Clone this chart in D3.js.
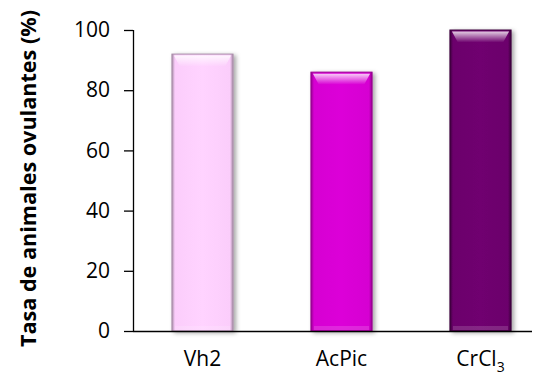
<!DOCTYPE html>
<html>
<head>
<meta charset="utf-8">
<script src="https://cdn.jsdelivr.net/npm/d3@7"></script>
<style>
  html, body { margin: 0; padding: 0; background: #fff; }
  svg { display: block; }
  text { font-family: "Open Sans", "Liberation Sans", sans-serif; fill: #000; }
</style>
</head>
<body>
<svg id="chart" width="540" height="376"></svg>
<script>
// Ovulation rate per treatment group
const groups = ["Vh2", "AcPic", "CrCl3"];
const rates = [92, 86, 100];
const yTicks = [0, 20, 40, 60, 80, 100];
const barColors = ["#fbcdfb", "#d600d2", "#6c006c"];
const edgeColors = ["#a88ca8", "#96008f", "#3c003c"];

const svg = d3.select("#chart");
const plotLeft = 133, plotRight = 550, plotTop = 30, plotBottom = 331;

const x = d3.scaleBand().domain(groups).range([plotLeft, plotRight]).paddingInner(0.56).paddingOuter(0.28);
const y = d3.scaleLinear().domain([0, 100]).range([plotBottom, plotTop]);

const defs = svg.append("defs");

const shadow = defs.append("filter").attr("id", "barShadow")
  .attr("x", "-20%").attr("y", "-10%").attr("width", "150%").attr("height", "130%");
shadow.append("feDropShadow").attr("dx", 2.5).attr("dy", 1.5)
  .attr("stdDeviation", 2).attr("flood-color", "#000").attr("flood-opacity", 0.35);

groups.forEach((g, i) => {
  const grad = defs.append("linearGradient").attr("id", "fill" + i)
    .attr("x1", 0).attr("x2", 1).attr("y1", 0).attr("y2", 0);
  grad.append("stop").attr("offset", 0).attr("stop-color", edgeColors[i]);
  grad.append("stop").attr("offset", 0.05).attr("stop-color", barColors[i]);
  grad.append("stop").attr("offset", 0.5).attr("stop-color", d3.color(barColors[i]).brighter(0.08));
  grad.append("stop").attr("offset", 0.95).attr("stop-color", barColors[i]);
  grad.append("stop").attr("offset", 1).attr("stop-color", edgeColors[i]);
});

const gloss = defs.append("linearGradient").attr("id", "gloss")
  .attr("x1", 0).attr("x2", 0).attr("y1", 0).attr("y2", 1);
gloss.append("stop").attr("offset", 0).attr("stop-color", "#fff").attr("stop-opacity", 0.8);
gloss.append("stop").attr("offset", 1).attr("stop-color", "#fff").attr("stop-opacity", 0);

// Bars
const bars = svg.append("g").selectAll("g").data(groups).join("g");
bars.append("rect")
  .attr("x", d => x(d))
  .attr("y", (d, i) => y(rates[i]))
  .attr("width", x.bandwidth())
  .attr("height", (d, i) => y(0) - y(rates[i]))
  .attr("fill", (d, i) => `url(#fill${i})`)
  .attr("stroke", (d, i) => edgeColors[i])
  .attr("stroke-width", 1)
  .attr("filter", "url(#barShadow)");
// top bevel highlight
bars.append("path")
  .attr("d", (d, i) => {
    const x0 = x(d) + 2, x1 = x(d) + x.bandwidth() - 2, y0 = y(rates[i]) + 1.5;
    return `M${x0},${y0} L${x1},${y0} L${x1 - 6},${y0 + 11} L${x0 + 6},${y0 + 11} Z`;
  })
  .attr("fill", "url(#gloss)");
// bottom bevel shade
bars.append("rect")
  .attr("x", d => x(d) + 3)
  .attr("y", y(0) - 5)
  .attr("width", x.bandwidth() - 6)
  .attr("height", 4)
  .attr("fill", "#fff").attr("opacity", 0.15);

// Axes
const yAxis = svg.append("g").attr("transform", `translate(${plotLeft},0)`)
  .call(d3.axisLeft(y).tickValues(yTicks).tickSize(9).tickPadding(14));
yAxis.select(".domain").attr("stroke", "#000").attr("stroke-width", 1.3)
  .attr("d", `M0.5,${plotTop}V${plotBottom}`);
yAxis.selectAll(".tick line").attr("stroke", "#000").attr("stroke-width", 1.3);
yAxis.selectAll(".tick text").attr("font-size", 21).attr("fill", "#000")
  .attr("font-family", '"Open Sans", sans-serif');

const xAxis = svg.append("g").attr("transform", `translate(0,${plotBottom})`)
  .call(d3.axisBottom(x).tickSize(0).tickPadding(20));
xAxis.select(".domain").attr("stroke", "#000").attr("stroke-width", 1.3)
  .attr("d", `M${plotLeft},0.5H532`);
xAxis.selectAll(".tick text").attr("font-size", 21).attr("fill", "#000")
  .attr("font-family", '"Open Sans", sans-serif')
  .each(function(d) {
    const t = d3.select(this);
    if (d === "CrCl3") {
      t.text("CrCl");
      t.append("tspan").attr("font-size", 14).attr("dy", 6).text("3");
    }
  });

// Y axis title
svg.append("text")
  .attr("transform", `translate(27,${(10 + 347) / 2}) rotate(-90)`)
  .attr("text-anchor", "middle")
  .attr("dominant-baseline", "central")
  .attr("font-weight", "bold")
  .attr("font-size", 22)
  .attr("textLength", 337)
  .attr("lengthAdjust", "spacingAndGlyphs")
  .text("Tasa de animales ovulantes (%)");
</script>
</body>
</html>
